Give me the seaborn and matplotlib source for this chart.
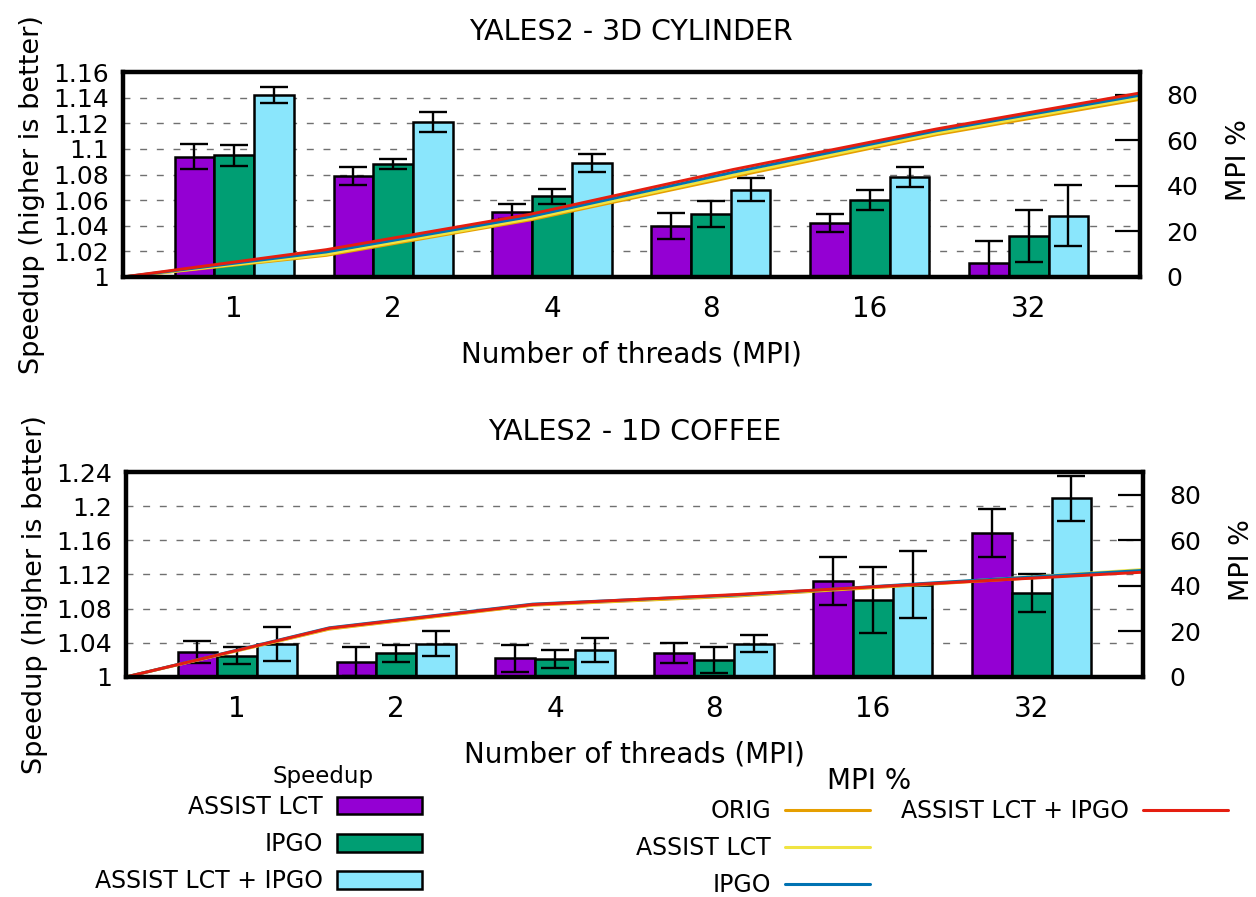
import numpy as np
import pandas as pd
import matplotlib
matplotlib.use("Agg")
import matplotlib.pyplot as plt
from matplotlib.patches import Patch
from matplotlib.lines import Line2D
from matplotlib.ticker import FuncFormatter
import seaborn as sns

threads = ["1", "2", "4", "8", "16", "32"]
variants = ["ASSIST LCT", "IPGO", "ASSIST LCT + IPGO"]
mpi_runs = ["ORIG", "ASSIST LCT", "IPGO", "ASSIST LCT + IPGO"]

# YALES2 3D cylinder - speedup (mean) and error bar half-width
cyl_lct = [1.094, 1.079, 1.051, 1.040, 1.042, 1.011]
cyl_lct_err = [0.010, 0.007, 0.006, 0.010, 0.007, 0.017]
cyl_ipgo = [1.095, 1.088, 1.063, 1.049, 1.060, 1.032]
cyl_ipgo_err = [0.008, 0.004, 0.006, 0.010, 0.008, 0.020]
cyl_both = [1.142, 1.121, 1.089, 1.068, 1.078, 1.048]
cyl_both_err = [0.006, 0.008, 0.007, 0.009, 0.008, 0.024]

# YALES2 3D cylinder - MPI %
cyl_mpi_orig = [0, 9.5, 25.0, 44.0, 62.5, 78.0]
cyl_mpi_lct = [0, 10.0, 25.5, 44.8, 63.2, 78.8]
cyl_mpi_ipgo = [0, 11.0, 26.5, 46.0, 64.2, 79.8]
cyl_mpi_both = [0, 12.0, 27.5, 47.2, 65.0, 80.8]

# YALES2 1D coffee - speedup
cof_lct = [1.029, 1.018, 1.022, 1.028, 1.112, 1.169]
cof_lct_err = [0.013, 0.017, 0.016, 0.012, 0.028, 0.028]
cof_ipgo = [1.025, 1.028, 1.021, 1.020, 1.090, 1.098]
cof_ipgo_err = [0.010, 0.010, 0.011, 0.015, 0.039, 0.022]
cof_both = [1.039, 1.039, 1.032, 1.039, 1.108, 1.209]
cof_both_err = [0.020, 0.015, 0.014, 0.010, 0.039, 0.026]

# YALES2 1D coffee - MPI %
cof_mpi_orig = [0, 21.0, 31.5, 35.5, 41.0, 46.5]
cof_mpi_lct = [0, 21.2, 31.7, 35.8, 41.3, 47.2]
cof_mpi_ipgo = [0, 21.6, 32.0, 36.0, 41.5, 46.8]
cof_mpi_both = [0, 21.4, 31.8, 36.2, 41.2, 46.0]

bar_colors = ["#9400D3", "#009E73", "#8AE6FC"]
line_colors = ["#E69F00", "#F0E442", "#0072B2", "#E51E10"]

sns.set_theme(style="white")
plt.rcParams["font.family"] = ["DejaVu Sans"]
plt.rcParams["text.color"] = "black"

fig = plt.figure(figsize=(12.56, 8.97), dpi=100)
ax_top = fig.add_axes([0.0979, 0.6912, 0.8097, 0.2285])
ax_bot = fig.add_axes([0.1003, 0.2453, 0.8097, 0.2285])


def panel(ax, title, speedup, errors, mpi, ylim, yticks):
    df = pd.DataFrame({
        "threads": np.tile(threads, len(variants)),
        "variant": np.repeat(variants, len(threads)),
        "speedup": np.concatenate(speedup),
    })
    sns.barplot(data=df, x="threads", y="speedup", hue="variant",
                palette=bar_colors, saturation=1, width=0.75, gap=0,
                edgecolor="black", linewidth=1.8, errorbar=None,
                legend=False, ax=ax, zorder=2)
    for cont, err in zip(ax.containers, errors):
        xs = [p.get_x() + p.get_width() / 2 for p in cont]
        ys = [p.get_height() for p in cont]
        ax.errorbar(xs, ys, yerr=err, fmt="none", ecolor="black",
                    elinewidth=1.7, capsize=10, capthick=1.7, zorder=3)

    xlim = (-0.7, len(threads) - 0.3)
    ax.set_xlim(xlim)
    ax.set_ylim(ylim)
    ax.set_yticks(yticks)
    ax.yaxis.set_major_formatter(FuncFormatter(lambda v, p: f"{v:g}"))
    ax.set_axisbelow(True)
    ax.yaxis.grid(True, color="#707070", linestyle=(0, (5, 7)), linewidth=1.0)
    ax.xaxis.grid(False)
    ax.tick_params(axis="y", length=0, pad=10, labelsize=18, colors="black")
    ax.tick_params(axis="x", length=0, pad=13, labelsize=20, colors="black")
    ax.set_xlabel("Number of threads (MPI)", fontsize=20, color="black")
    ax.set_ylabel("Speedup (higher is better)", fontsize=19.5, color="black")
    ax.xaxis.set_label_coords(0.5, -0.31)
    ax.yaxis.set_label_coords(-0.077, 0.40)
    ax.set_title(title, fontsize=20.5, pad=23, color="black")
    for s in ax.spines.values():
        s.set_visible(False)

    ax2 = ax.twinx()
    xs = np.linspace(xlim[0], xlim[1], len(threads))
    for vals, c in zip(mpi, line_colors):
        sns.lineplot(x=xs, y=vals, color=c, linewidth=2.1, ax=ax2)
    ax.set_xlim(xlim)
    ax2.set_ylim(0, 90)
    ax2.set_yticks([0, 20, 40, 60, 80])
    ax2.tick_params(axis="y", direction="in", length=18, width=1.6,
                    pad=19, labelsize=18, colors="black")
    ax2.set_ylabel("MPI %", fontsize=19.5, color="black")
    ax2.yaxis.set_label_coords(1.085, 0.57)
    for s in ax2.spines.values():
        s.set_visible(True)
        s.set_color("black")
        s.set_linewidth(3.2)
    return ax2


panel(ax_top, "YALES2 - 3D CYLINDER",
      [cyl_lct, cyl_ipgo, cyl_both],
      [cyl_lct_err, cyl_ipgo_err, cyl_both_err],
      [cyl_mpi_orig, cyl_mpi_lct, cyl_mpi_ipgo, cyl_mpi_both],
      (1.0, 1.16), np.linspace(1.0, 1.16, 9))
panel(ax_bot, "YALES2 - 1D COFFEE",
      [cof_lct, cof_ipgo, cof_both],
      [cof_lct_err, cof_ipgo_err, cof_both_err],
      [cof_mpi_orig, cof_mpi_lct, cof_mpi_ipgo, cof_mpi_both],
      (1.0, 1.24), np.linspace(1.0, 1.24, 7))

# legends (gnuplot style: label first, sample on the right)
bar_handles = [Patch(facecolor=c, edgecolor="black", linewidth=1.8, label=v)
               for v, c in zip(variants, bar_colors)]
line_handles = [Line2D([], [], color=c, linewidth=2.2, label=r)
                for r, c in zip(mpi_runs, line_colors)]
leg_kw = dict(frameon=False, markerfirst=False, fontsize=17, handlelength=3.6,
              handleheight=0.76, handletextpad=0.6, labelspacing=0.56,
              borderpad=0, borderaxespad=0, loc="upper right", labelcolor="black")
fig.legend(handles=bar_handles, bbox_to_anchor=(0.336, 1 - 795 / 897), **leg_kw)
fig.legend(handles=line_handles[:3], bbox_to_anchor=(0.693, 1 - 799 / 897), **leg_kw)
fig.legend(handles=line_handles[3:], bbox_to_anchor=(0.978, 1 - 799 / 897), **leg_kw)
fig.text(323 / 1256, 1 - 776 / 897, "Speedup", ha="center", va="center",
         fontsize=16.5, color="black")
fig.text(869 / 1256, 1 - 781 / 897, "MPI %", ha="center", va="center",
         fontsize=20, color="black")

fig.savefig("out.png", dpi=100)
